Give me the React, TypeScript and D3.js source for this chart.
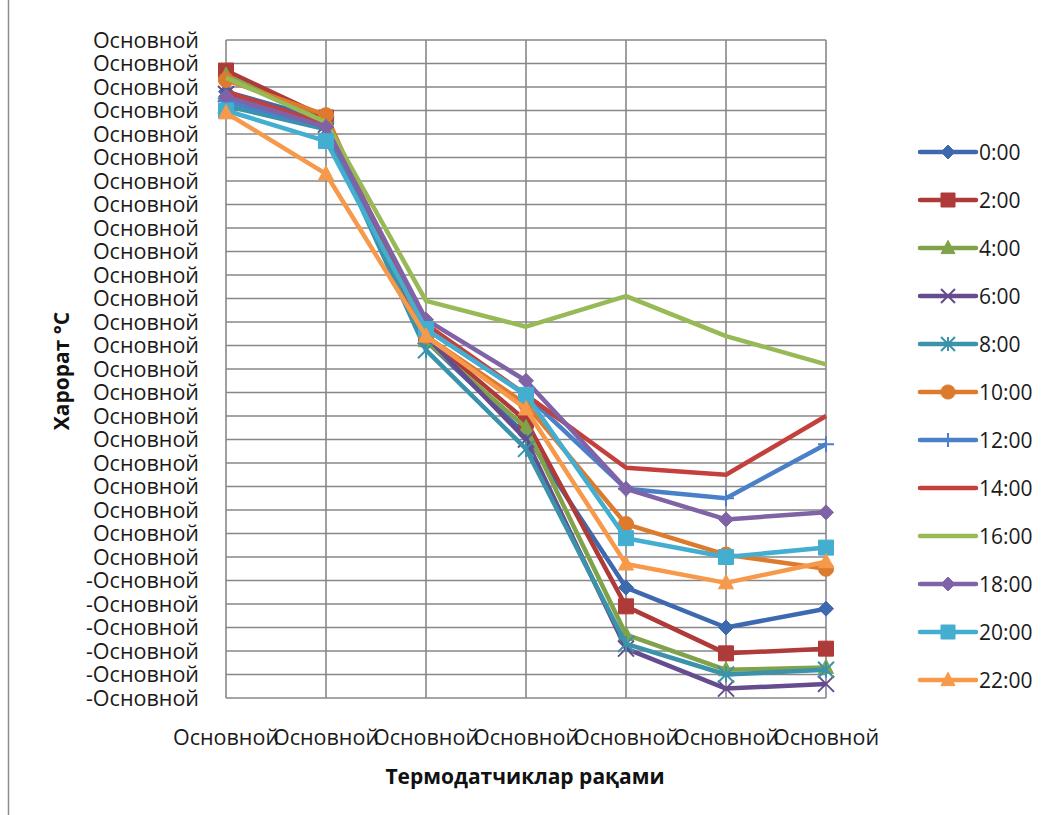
import React, { useEffect, useRef } from "react";
import * as d3 from "d3";

const categories = ["Основной", "Основной", "Основной", "Основной", "Основной", "Основной", "Основной"];
const seriesNames = ["0:00", "2:00", "4:00", "6:00", "8:00", "10:00", "12:00", "14:00", "16:00", "18:00", "20:00", "22:00"];
const s0 = [19.8, 18.6, 9.2, 5.2, -1.3, -3.0, -2.2];
const s2 = [20.7, 18.7, 9.4, 5.8, -2.1, -4.1, -3.9];
const s4 = [20.5, 18.5, 9.2, 5.5, -3.3, -4.8, -4.7];
const s6 = [19.7, 18.4, 9.4, 5.0, -3.9, -5.6, -5.4];
const s8 = [19.2, 18.2, 8.8, 4.6, -3.7, -5.0, -4.8];
const s10 = [20.3, 18.8, 9.4, 6.5, 1.4, 0.1, -0.5];
const s12 = [19.4, 18.3, 9.7, 6.9, 2.9, 2.5, 4.8];
const s14 = [19.8, 18.4, 9.9, 6.9, 3.8, 3.5, 6.0];
const s16 = [20.4, 18.5, 10.9, 9.8, 11.1, 9.4, 8.2];
const s18 = [19.6, 18.3, 10.1, 7.5, 2.9, 1.6, 1.9];
const s20 = [19.0, 17.7, 9.7, 6.9, 0.8, 0.0, 0.4];
const s22 = [18.9, 16.3, 9.4, 6.3, -0.3, -1.1, -0.2];
const seriesValues = [s0, s2, s4, s6, s8, s10, s12, s14, s16, s18, s20, s22];
const seriesColors = ["#3D6AAE", "#AE3B39", "#80A24A", "#654C8E", "#3A93AA", "#DC7B2E", "#4A80C8", "#C4403C", "#97BA56", "#8062A6", "#44AED0", "#F7994A"];
const seriesMarkers = ["diamond", "square", "triangle", "x", "asterisk", "circle", "plus", "none", "none", "diamond", "square", "triangle"];
const yTickValues = d3.range(-6, 23, 1);
const yTickLabel = "Основной";
const yTitle = "Харорат °C";
const xTitle = "Термодатчиклар рақами";

const FONT = "'Open Sans', 'Noto Sans', sans-serif";

function markerPath(type: string, s: number): string {
  const h = s / 2;
  switch (type) {
    case "diamond":
      return `M0,${-h}L${h},0L0,${h}L${-h},0Z`;
    case "square":
      return `M${-h},${-h}H${h}V${h}H${-h}Z`;
    case "triangle":
      return `M0,${-h * 1.1}L${h},${h * 0.8}L${-h},${h * 0.8}Z`;
    case "x":
      return `M${-h},${-h}L${h},${h}M${h},${-h}L${-h},${h}`;
    case "asterisk":
      return `M${-h},${-h}L${h},${h}M${h},${-h}L${-h},${h}M0,${-h}V${h}`;
    case "plus":
      return `M${-h},0H${h}M0,${-h}V${h}`;
    case "circle":
      return d3.symbol(d3.symbolCircle, s * s * 0.8)() as string;
    default:
      return "";
  }
}

export default function App() {
  const ref = useRef<SVGSVGElement>(null);
  useEffect(() => {
    const svg = d3.select(ref.current);
    svg.selectAll("*").remove();
    const left = 226, right = 826, top = 40, bottom = 698;
    const x = d3.scalePoint<number>().domain(d3.range(categories.length)).range([left, right]);
    const y = d3.scaleLinear().domain([-6, 22]).range([bottom, top]);

    svg.append("rect").attr("width", 1059).attr("height", 815).attr("fill", "#fff");
    svg.append("line").attr("x1", 8.5).attr("x2", 8.5).attr("y1", 0).attr("y2", 815).attr("stroke", "#8c8c8c").attr("stroke-width", 1.5);

    const g = svg.append("g");
    g.selectAll("line.h").data(yTickValues).enter().append("line")
      .attr("x1", left).attr("x2", right)
      .attr("y1", d => y(d)).attr("y2", d => y(d))
      .attr("stroke", "#878787").attr("stroke-width", 1.6);
    g.selectAll("line.v").data(d3.range(categories.length)).enter().append("line")
      .attr("x1", d => x(d)!).attr("x2", d => x(d)!)
      .attr("y1", top).attr("y2", bottom)
      .attr("stroke", "#878787").attr("stroke-width", 1.6);

    g.selectAll("text.yl").data(yTickValues).enter().append("text")
      .attr("x", 199).attr("y", d => y(d)).attr("dy", "0.36em")
      .attr("text-anchor", "end").attr("font-family", FONT).attr("font-size", 21.5)
      .attr("fill", "#1a1a1a")
      .text(d => (d < 0 ? "-" : "") + yTickLabel);

    g.selectAll("text.xl").data(categories).enter().append("text")
      .attr("x", (_d, i) => x(i)!).attr("y", 745)
      .attr("text-anchor", "middle").attr("font-family", FONT).attr("font-size", 21.5)
      .attr("fill", "#1a1a1a")
      .text(d => d);

    svg.append("text").attr("x", 525).attr("y", 784).attr("text-anchor", "middle")
      .attr("font-family", FONT).attr("font-weight", "bold").attr("font-size", 21).attr("fill", "#111")
      .text(xTitle);
    svg.append("text").attr("transform", "translate(69,371) rotate(-90)").attr("text-anchor", "middle")
      .attr("font-family", FONT).attr("font-weight", "bold").attr("font-size", 21).attr("fill", "#111")
      .text(yTitle);

    const line = d3.line<number>().x((_d, i) => x(i)!).y(d => y(d));
    seriesValues.forEach((vals, si) => {
      const col = seriesColors[si];
      const sg = svg.append("g");
      sg.append("path").attr("d", line(vals)!).attr("fill", "none").attr("stroke", col)
        .attr("stroke-width", 4.5).attr("stroke-linejoin", "round");
      const m = seriesMarkers[si];
      if (m !== "none") {
        const open = m === "x" || m === "asterisk" || m === "plus";
        sg.selectAll("path.m").data(vals).enter().append("path")
          .attr("transform", (d, i) => `translate(${x(i)},${y(d)})`)
          .attr("d", markerPath(m, open ? 16 : 15))
          .attr("fill", open ? "none" : col)
          .attr("stroke", col).attr("stroke-width", open ? 2 : 1);
      }
    });

    const lg = svg.append("g");
    seriesNames.forEach((name, i) => {
      const ly = 152 + i * 48;
      const col = seriesColors[i];
      lg.append("line").attr("x1", 920).attr("x2", 976).attr("y1", ly).attr("y2", ly)
        .attr("stroke", col).attr("stroke-width", 4.5).attr("stroke-linecap", "round");
      const m = seriesMarkers[i];
      if (m !== "none") {
        const open = m === "x" || m === "asterisk" || m === "plus";
        lg.append("path").attr("transform", `translate(948,${ly})`)
          .attr("d", markerPath(m, 14))
          .attr("fill", open ? "none" : col).attr("stroke", col).attr("stroke-width", open ? 2 : 1);
      }
      lg.append("text").attr("x", 979).attr("y", ly).attr("dy", "0.36em")
        .attr("font-family", FONT).attr("font-size", 21).attr("fill", "#1a1a1a").text(name);
    });
  }, []);
  return (
    <svg ref={ref} width={1059} height={815} style={{ position: "absolute", left: 0, top: 0, display: "block" }} />
  );
}
